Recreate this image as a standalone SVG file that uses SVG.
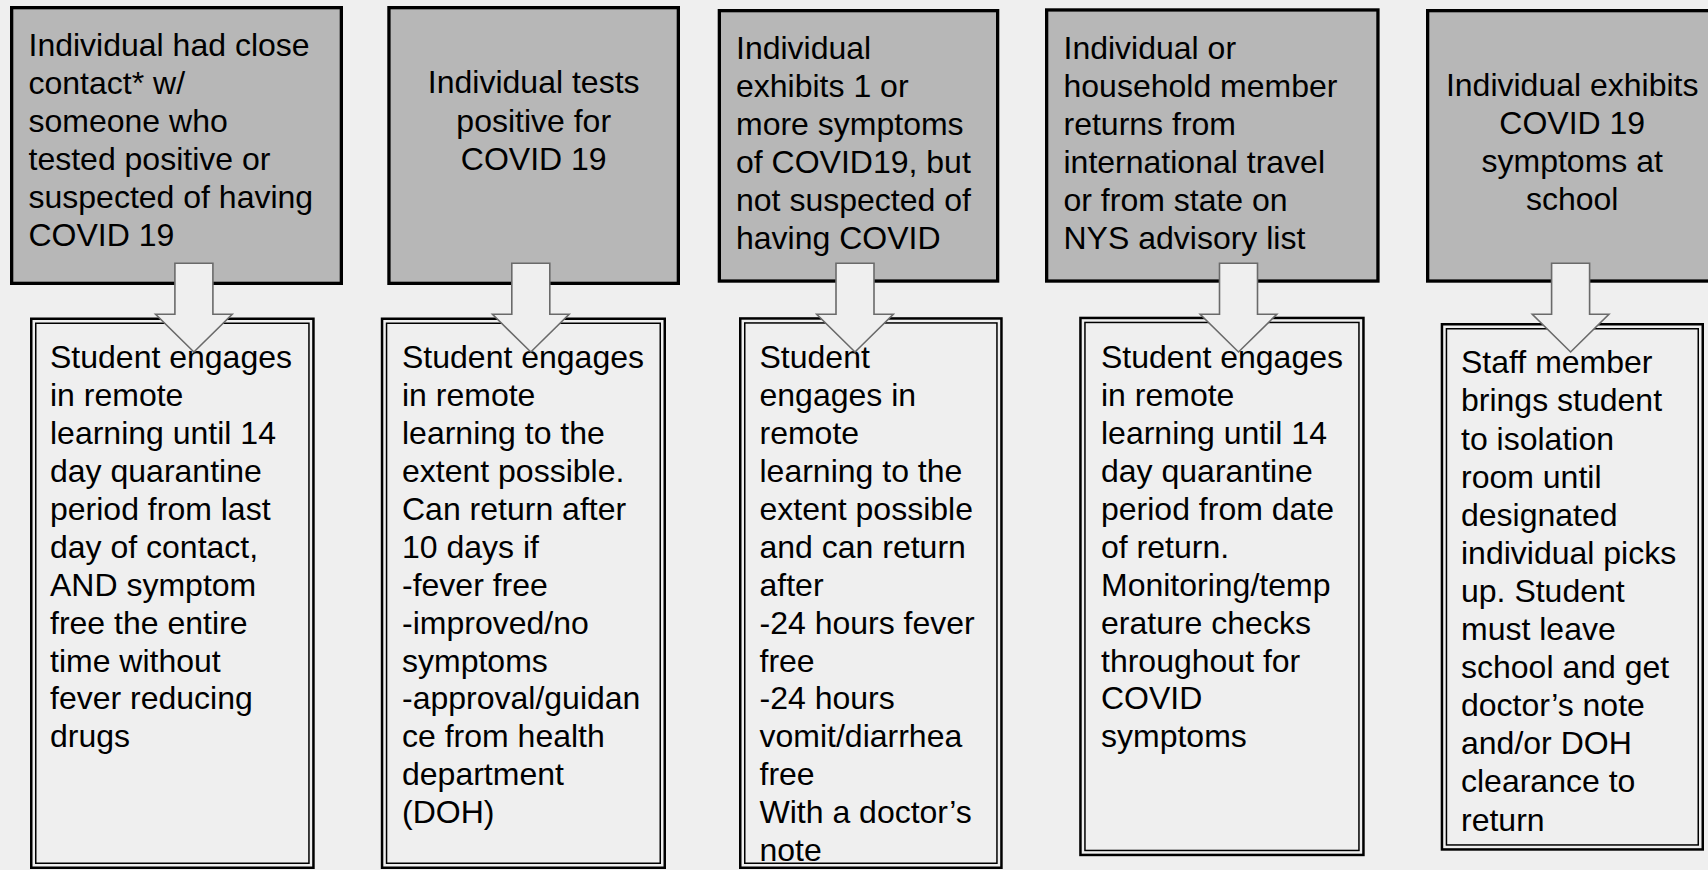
<svg xmlns="http://www.w3.org/2000/svg" width="1708" height="870" viewBox="0 0 1708 870">
<style>
.bg{fill:#efefef}
.top{fill:#b7b7b7;stroke:#000;stroke-width:3.3}
.outer{fill:#efefef;stroke:#000;stroke-width:2.5}
.inner{fill:none;stroke:#000;stroke-width:1.5}
.t{font-family:"Liberation Sans",Arial,sans-serif;font-size:32px;fill:#000}
.c{text-anchor:middle}
.arrow{fill:#efefef;stroke:#6a6a6a;stroke-width:1.6;stroke-linejoin:miter}
</style>
<rect class="bg" x="0" y="0" width="1708" height="870"/>

<g id="cond1">
<rect class="top" x="11.65" y="7.65" width="329.7" height="275.7"/>
<text class="t"><tspan x="28.5" y="55.7">Individual had close</tspan><tspan x="28.5" y="93.8">contact* w/</tspan><tspan x="28.5" y="131.8">someone who</tspan><tspan x="28.5" y="169.9">tested positive or</tspan><tspan x="28.5" y="207.9">suspected of having</tspan><tspan x="28.5" y="246">COVID 19</tspan></text>
</g>
<g id="cond2">
<rect class="top" x="388.95" y="7.65" width="289.4" height="275.7"/>
<text class="t c"><tspan x="533.7" y="93.4">Individual tests</tspan><tspan x="533.7" y="131.5">positive for</tspan><tspan x="533.7" y="169.6">COVID 19</tspan></text>
</g>
<g id="cond3">
<rect class="top" x="719.35" y="10.65" width="278.3" height="270.4"/>
<text class="t"><tspan x="736" y="59">Individual</tspan><tspan x="736" y="97">exhibits 1 or</tspan><tspan x="736" y="135">more symptoms</tspan><tspan x="736" y="173">of COVID19, but</tspan><tspan x="736" y="211">not suspected of</tspan><tspan x="736" y="249">having COVID</tspan></text>
</g>
<g id="cond4">
<rect class="top" x="1046.65" y="9.95" width="331.3" height="271.1"/>
<text class="t"><tspan x="1063.5" y="59">Individual or</tspan><tspan x="1063.5" y="97">household member</tspan><tspan x="1063.5" y="135">returns from</tspan><tspan x="1063.5" y="173">international travel</tspan><tspan x="1063.5" y="211">or from state on</tspan><tspan x="1063.5" y="249">NYS advisory list</tspan></text>
</g>
<g id="cond5">
<rect class="top" x="1427.65" y="10.65" width="340" height="270.4"/>
<text class="t c"><tspan x="1572.2" y="96">Individual exhibits</tspan><tspan x="1572.2" y="134">COVID 19</tspan><tspan x="1572.2" y="172">symptoms at</tspan><tspan x="1572.2" y="210">school</tspan></text>
</g>

<g id="action1">
<rect class="outer" x="31.25" y="318.75" width="282.2" height="549"/>
<rect class="inner" x="35.75" y="323.25" width="273.2" height="540"/>
<text class="t"><tspan x="50" y="368.3">Student engages</tspan><tspan x="50" y="406.2">in remote</tspan><tspan x="50" y="444.1">learning until 14</tspan><tspan x="50" y="482">day quarantine</tspan><tspan x="50" y="519.9">period from last</tspan><tspan x="50" y="557.8">day of contact,</tspan><tspan x="50" y="595.7">AND symptom</tspan><tspan x="50" y="633.6">free the entire</tspan><tspan x="50" y="671.5">time without</tspan><tspan x="50" y="709.4">fever reducing</tspan><tspan x="50" y="747.3">drugs</tspan></text>
</g>
<g id="action2">
<rect class="outer" x="382.05" y="318.75" width="282.7" height="549"/>
<rect class="inner" x="386.55" y="323.25" width="273.7" height="540"/>
<text class="t"><tspan x="402" y="368.3">Student engages</tspan><tspan x="402" y="406.2">in remote</tspan><tspan x="402" y="444.1">learning to the</tspan><tspan x="402" y="482">extent possible.</tspan><tspan x="402" y="519.9">Can return after</tspan><tspan x="402" y="557.8">10 days if</tspan><tspan x="402" y="595.7">-fever free</tspan><tspan x="402" y="633.6">-improved/no</tspan><tspan x="402" y="671.5">symptoms</tspan><tspan x="402" y="709.4">-approval/guidan</tspan><tspan x="402" y="747.3">ce from health</tspan><tspan x="402" y="785.2">department</tspan><tspan x="402" y="823.1">(DOH)</tspan></text>
</g>
<g id="action3">
<rect class="outer" x="740.25" y="318.45" width="261.2" height="549.3"/>
<rect class="inner" x="744.75" y="322.95" width="252.2" height="540.3"/>
<text class="t"><tspan x="759.5" y="368.3">Student</tspan><tspan x="759.5" y="406.2">engages in</tspan><tspan x="759.5" y="444.1">remote</tspan><tspan x="759.5" y="482">learning to the</tspan><tspan x="759.5" y="519.9">extent possible</tspan><tspan x="759.5" y="557.8">and can return</tspan><tspan x="759.5" y="595.7">after</tspan><tspan x="759.5" y="633.6">-24 hours fever</tspan><tspan x="759.5" y="671.5">free</tspan><tspan x="759.5" y="709.4">-24 hours</tspan><tspan x="759.5" y="747.3">vomit/diarrhea</tspan><tspan x="759.5" y="785.2">free</tspan><tspan x="759.5" y="823.1">With a doctor’s</tspan><tspan x="759.5" y="861">note</tspan></text>
</g>
<g id="action4">
<rect class="outer" x="1080.45" y="317.95" width="283" height="537"/>
<rect class="inner" x="1084.95" y="322.45" width="274" height="528"/>
<text class="t"><tspan x="1101" y="368.3">Student engages</tspan><tspan x="1101" y="406.2">in remote</tspan><tspan x="1101" y="444.1">learning until 14</tspan><tspan x="1101" y="482">day quarantine</tspan><tspan x="1101" y="519.9">period from date</tspan><tspan x="1101" y="557.8">of return.</tspan><tspan x="1101" y="595.7">Monitoring/temp</tspan><tspan x="1101" y="633.6">erature checks</tspan><tspan x="1101" y="671.5">throughout for</tspan><tspan x="1101" y="709.4">COVID</tspan><tspan x="1101" y="747.3">symptoms</tspan></text>
</g>
<g id="action5">
<rect class="outer" x="1441.95" y="324.25" width="260.8" height="525.2"/>
<rect class="inner" x="1446.45" y="328.75" width="251.8" height="516.2"/>
<text class="t"><tspan x="1461" y="373.3">Staff member</tspan><tspan x="1461" y="411.4">brings student</tspan><tspan x="1461" y="449.5">to isolation</tspan><tspan x="1461" y="487.6">room until</tspan><tspan x="1461" y="525.7">designated</tspan><tspan x="1461" y="563.8">individual picks</tspan><tspan x="1461" y="601.9">up. Student</tspan><tspan x="1461" y="640">must leave</tspan><tspan x="1461" y="678.1">school and get</tspan><tspan x="1461" y="716.2">doctor’s note</tspan><tspan x="1461" y="754.3">and/or DOH</tspan><tspan x="1461" y="792.4">clearance to</tspan><tspan x="1461" y="830.5">return</tspan></text>
</g>

<g id="connectors">
<polygon class="arrow" points="174.9,263.3 212.9,263.3 212.9,314.3 232.2,314.3 193.9,352 155.6,314.3 174.9,314.3"/>
<polygon class="arrow" points="511.8,263.3 549.8,263.3 549.8,314.3 569.1,314.3 530.8,352 492.5,314.3 511.8,314.3"/>
<polygon class="arrow" points="836,263.3 874,263.3 874,314.3 893.3,314.3 855,352 816.7,314.3 836,314.3"/>
<polygon class="arrow" points="1219.5,263.3 1257.5,263.3 1257.5,314.3 1276.8,314.3 1238.5,352 1200.2,314.3 1219.5,314.3"/>
<polygon class="arrow" points="1551.6,263.3 1589.6,263.3 1589.6,314.3 1608.9,314.3 1570.6,352 1532.3,314.3 1551.6,314.3"/>
</g>
</svg>
